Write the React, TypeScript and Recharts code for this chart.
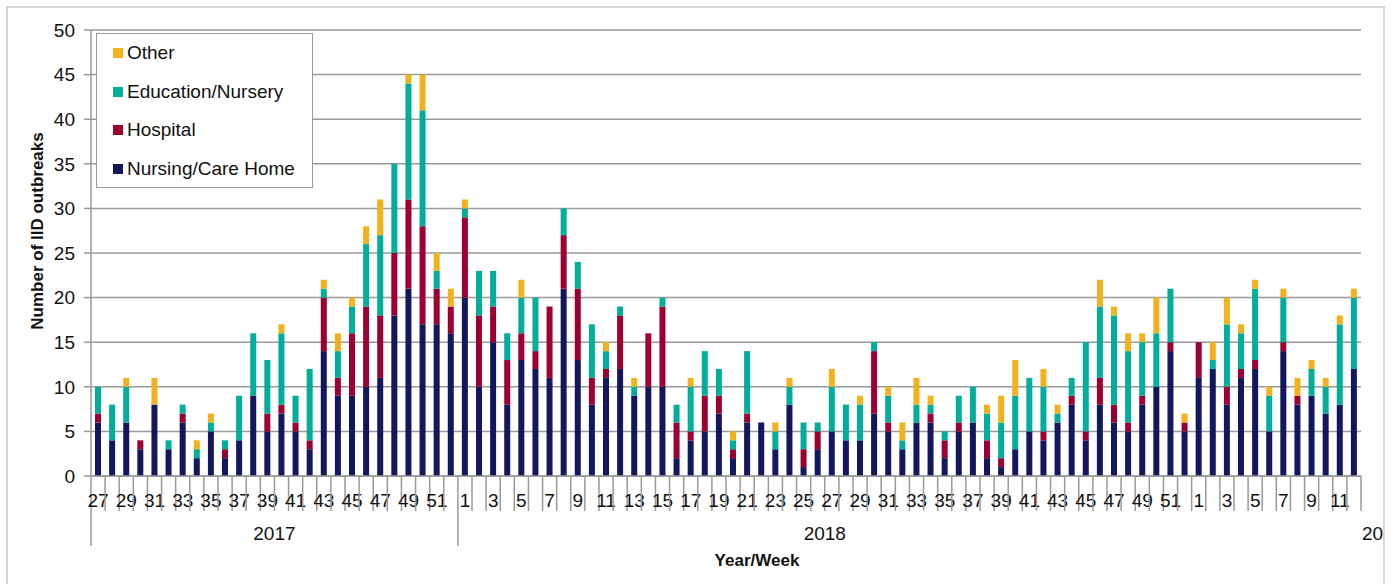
import React from "react";
import { BarChart, Bar, XAxis, YAxis, CartesianGrid } from "recharts";

// weeks 27/2017 .. 12/2019
const weeks: number[] = [
  27, 28, 29, 30, 31, 32, 33, 34, 35, 36, 37, 38, 39, 40, 41, 42, 43, 44, 45, 46, 47, 48, 49, 50, 51, 52,
  1, 2, 3, 4, 5, 6, 7, 8, 9, 10, 11, 12, 13, 14, 15, 16, 17, 18, 19, 20, 21, 22, 23, 24, 25, 26,
  27, 28, 29, 30, 31, 32, 33, 34, 35, 36, 37, 38, 39, 40, 41, 42, 43, 44, 45, 46, 47, 48, 49, 50, 51, 52,
  1, 2, 3, 4, 5, 6, 7, 8, 9, 10, 11, 12,
];
const yearSizes = [26, 52, 12];
// the 2019 label is cut off at the right edge in the source
const yearLabels = ["2017", "2018", "20"];

const nursing: number[] = [
  6, 4, 6, 3, 8, 3, 6, 2, 5, 2, 4, 9, 5, 7, 5, 3, 14, 9, 9, 10, 11, 18, 21, 17, 17, 16,
  20, 10, 15, 8, 13, 12, 11, 21, 13, 8, 11, 12, 9, 10, 10, 2, 4, 5, 7, 2, 6, 6, 3, 8, 1, 3,
  5, 4, 4, 7, 5, 3, 6, 6, 2, 5, 6, 2, 1, 3, 5, 4, 6, 8, 4, 8, 6, 5, 8, 10, 14, 5,
  11, 12, 8, 11, 12, 5, 14, 8, 9, 7, 8, 12,
];
const hospital: number[] = [
  1, 0, 0, 1, 0, 0, 1, 0, 0, 1, 0, 0, 2, 1, 1, 1, 6, 2, 7, 9, 7, 7, 10, 11, 4, 3,
  9, 8, 4, 5, 3, 2, 8, 6, 8, 3, 1, 6, 0, 6, 9, 4, 1, 4, 2, 1, 1, 0, 0, 0, 2, 2,
  0, 0, 0, 7, 1, 0, 0, 1, 2, 1, 0, 2, 1, 0, 0, 1, 0, 1, 1, 3, 2, 1, 1, 0, 1, 1,
  4, 0, 2, 1, 1, 0, 1, 1, 0, 0, 0, 0,
];
const education: number[] = [
  3, 4, 4, 0, 0, 1, 1, 1, 1, 1, 5, 7, 6, 8, 3, 8, 1, 3, 3, 7, 9, 10, 13, 13, 2, 0,
  1, 5, 4, 3, 4, 6, 0, 3, 3, 6, 2, 1, 1, 0, 1, 2, 5, 5, 3, 1, 7, 0, 2, 2, 3, 1,
  5, 4, 4, 1, 3, 1, 2, 1, 1, 3, 4, 3, 4, 6, 6, 5, 1, 2, 10, 8, 10, 8, 6, 6, 6, 0,
  0, 1, 7, 4, 8, 4, 5, 0, 3, 3, 9, 8,
];
const other: number[] = [
  0, 0, 1, 0, 3, 0, 0, 1, 1, 0, 0, 0, 0, 1, 0, 0, 1, 2, 1, 2, 4, 0, 1, 4, 2, 2,
  1, 0, 0, 0, 2, 0, 0, 0, 0, 0, 1, 0, 1, 0, 0, 0, 1, 0, 0, 1, 0, 0, 1, 1, 0, 0,
  2, 0, 1, 0, 1, 2, 3, 1, 0, 0, 0, 1, 3, 4, 0, 2, 1, 0, 0, 3, 1, 2, 1, 4, 0, 1,
  0, 2, 3, 1, 1, 1, 1, 2, 1, 1, 1, 1,
];
const yTicks = [0, 5, 10, 15, 20, 25, 30, 35, 40, 45, 50];

const series = [
  { key: "nursing", name: "Nursing/Care Home", color: "#13175e", values: nursing },
  { key: "hospital", name: "Hospital", color: "#9b0031", values: hospital },
  { key: "education", name: "Education/Nursery", color: "#00ae9a", values: education },
  { key: "other", name: "Other", color: "#f3b11b", values: other },
];

const data = weeks.map((w, i) => {
  const row: Record<string, number | string> = { id: i, week: w };
  series.forEach((s) => (row[s.key] = s.values[i]));
  return row;
});

const W = 1394;
const H = 584;
const PLOT_LEFT = 91;
const PLOT_RIGHT = 1361;
const PLOT_TOP = 30;
const PLOT_BOTTOM = 476;
const Y_AXIS_W = 60;
const BW = (PLOT_RIGHT - PLOT_LEFT) / weeks.length;
const FONT = "'Liberation Sans', Arial, sans-serif";
const FS = 19;
const AXIS = "#9a9a9a";

const groupStarts: number[] = [];
yearSizes.reduce((acc, n) => {
  groupStarts.push(acc);
  return acc + n;
}, 0);

function WeekTick(props: any) {
  const { x, index } = props;
  const left = x - BW / 2;
  const g = groupStarts.indexOf(index);
  const last = index === weeks.length - 1;
  let yearText: React.ReactNode = null;
  yearSizes.forEach((n, gi) => {
    const start = groupStarts[gi];
    if (gi === yearSizes.length - 1) {
      if (last)
        yearText = (
          <text x={PLOT_RIGHT + 1} y={PLOT_BOTTOM + 64} fontSize={FS} fill="#111" fontFamily={FONT}>
            {yearLabels[gi]}
          </text>
        );
      return;
    }
    const mid = start + Math.floor((n - 1) / 2);
    if (index === mid) {
      const cx = n % 2 === 0 ? x + BW / 2 : x;
      yearText = (
        <text x={cx} y={PLOT_BOTTOM + 64} textAnchor="middle" fontSize={FS} fill="#111" fontFamily={FONT}>
          {yearLabels[gi]}
        </text>
      );
    }
  });
  return (
    <g>
      <line x1={left} x2={left} y1={PLOT_BOTTOM} y2={PLOT_BOTTOM + (g >= 0 && g < 2 ? 70 : 35)} stroke={AXIS} strokeWidth={1.5} />
      {last && <line x1={left + BW} x2={left + BW} y1={PLOT_BOTTOM} y2={PLOT_BOTTOM + 35} stroke={AXIS} strokeWidth={1.5} />}
      {index % 2 === 0 && (
        <text x={x} y={PLOT_BOTTOM + 31} textAnchor="middle" fontSize={FS} fill="#111" fontFamily={FONT}>
          {weeks[index]}
        </text>
      )}
      {yearText}
    </g>
  );
}

function LegendBox() {
  return (
    <div
      style={{
        position: "absolute",
        left: 96,
        top: 33,
        width: 215,
        height: 153,
        border: `1.5px solid ${AXIS}`,
        background: "#fff",
        fontFamily: FONT,
        fontSize: FS,
        color: "#111",
      }}
    >
      {[...series].reverse().map((s, i) => (
        <div
          key={s.key}
          style={{ position: "absolute", left: 16, top: 8 + i * 38.7, height: 22, display: "flex", alignItems: "center", whiteSpace: "nowrap" }}
        >
          <span style={{ width: 10, height: 10, background: s.color, display: "inline-block", marginRight: 4 }} />
          {s.name}
        </div>
      ))}
    </div>
  );
}

export default function App() {
  return (
    <div style={{ position: "absolute", left: 0, top: 0, width: W, height: H, background: "#fff" }}>
      <BarChart
        width={W}
        height={H}
        data={data}
        margin={{ top: PLOT_TOP, right: W - PLOT_RIGHT, bottom: 30, left: PLOT_LEFT - Y_AXIS_W }}
        barSize={6}
      >
        <CartesianGrid vertical={false} stroke={AXIS} strokeWidth={1.5} />
        <XAxis
          dataKey="id"
          interval={0}
          height={H - 30 - PLOT_BOTTOM}
          tickLine={false}
          axisLine={{ stroke: AXIS, strokeWidth: 1.5 }}
          tick={<WeekTick />}
        />
        <YAxis
          width={Y_AXIS_W}
          domain={[0, 50]}
          ticks={yTicks}
          interval={0}
          tickSize={7}
          tickMargin={9}
          axisLine={{ stroke: AXIS, strokeWidth: 1.5 }}
          tickLine={{ stroke: AXIS, strokeWidth: 1.5 }}
          tick={{ fontSize: FS, fill: "#111", fontFamily: FONT }}
        />
        {series.map((s) => (
          <Bar key={s.key} dataKey={s.key} name={s.name} stackId="a" fill={s.color} isAnimationActive={false} />
        ))}
      </BarChart>
      <svg width={W} height={H} style={{ position: "absolute", left: 0, top: 0, pointerEvents: "none" }}>
        <rect x={7} y={7} width={1377} height={620} fill="none" stroke="#c8c8c8" strokeWidth={1.5} />
        <text
          transform="translate(43,231) rotate(-90)"
          textAnchor="middle"
          fontSize={17}
          fontWeight="bold"
          fill="#111"
          fontFamily={FONT}
        >
          Number of IID outbreaks
        </text>
        <text x={757} y={566} textAnchor="middle" fontSize={17} fontWeight="bold" fill="#111" fontFamily={FONT}>
          Year/Week
        </text>
      </svg>
      <LegendBox />
    </div>
  );
}
